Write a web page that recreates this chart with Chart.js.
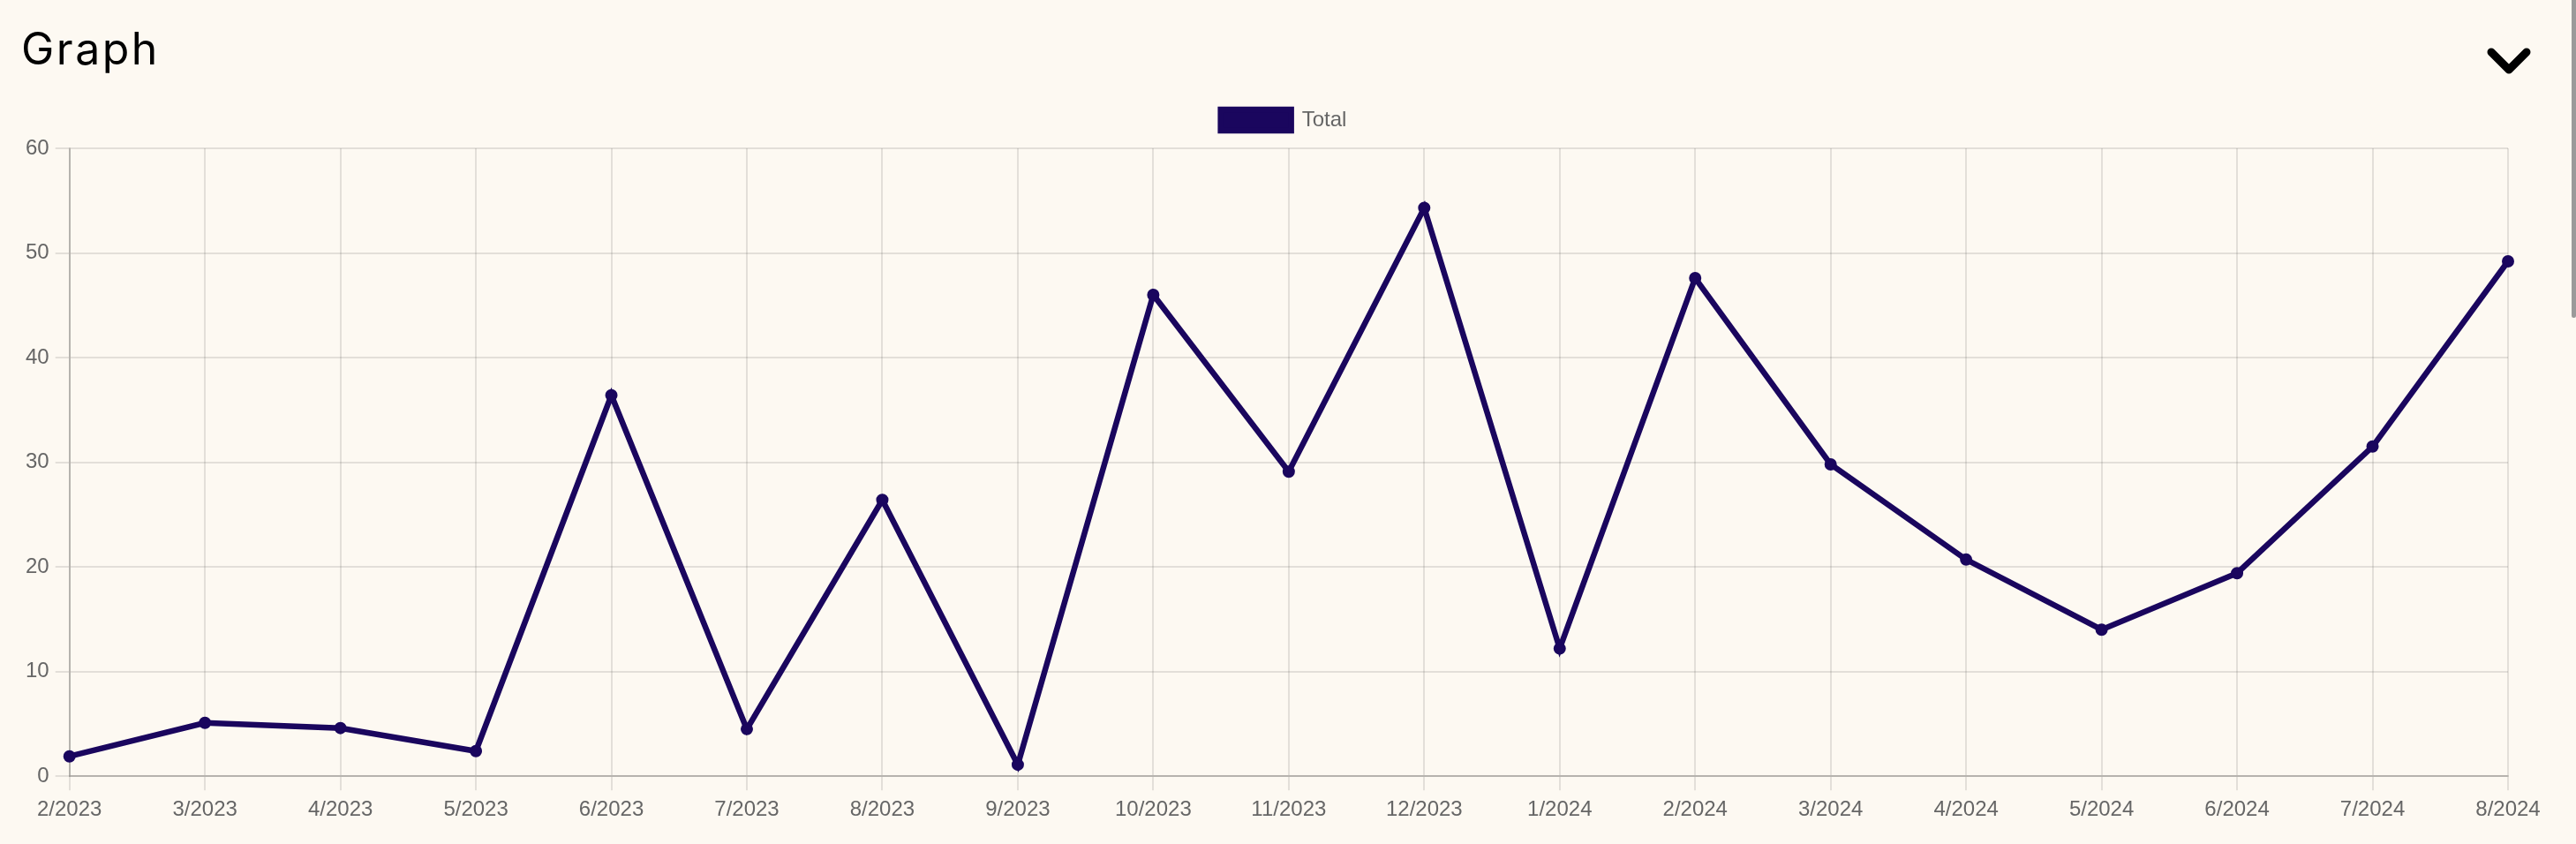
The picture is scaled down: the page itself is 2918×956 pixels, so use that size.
<!DOCTYPE html>
<html>
<head>
<meta charset="utf-8">
<script src="https://cdn.jsdelivr.net/npm/chart.js@4.4.1/dist/chart.umd.min.js"></script>
<style>
  html, body { margin: 0; padding: 0; background: #fdf9f2; width: 2918px; height: 956px; overflow: hidden; }
  #title { position: absolute; left: 24px; top: 30px; font-family: Inter, "Noto Sans", sans-serif; font-size: 50px; line-height: 1; color: #000; font-weight: 400; letter-spacing: 2.5px; }
  #chev { position: absolute; left: 2810px; top: 45px; }
  #scroll { position: absolute; left: 2913px; top: 0; width: 5px; height: 360px; background: #9a9a9a; border-radius: 0 0 3px 3px; }
  #wrap { position: absolute; left: 0; top: 0; width: 2910px; height: 956px; }
</style>
</head>
<body>
<div id="title">Graph</div>
<svg id="chev" width="64" height="50" viewBox="0 0 64 50">
  <polyline points="12,14 32,34 52,14" fill="none" stroke="#000" stroke-width="9" stroke-linecap="round" stroke-linejoin="round"/>
</svg>
<div id="scroll"></div>
<div id="wrap"><canvas id="c"></canvas></div>
<script>
const categories = ["2/2023","3/2023","4/2023","5/2023","6/2023","7/2023","8/2023","9/2023","10/2023","11/2023","12/2023","1/2024","2/2024","3/2024","4/2024","5/2024","6/2024","7/2024","8/2024"];
const totalValues = [1.9, 5.1, 4.6, 2.4, 36.4, 4.5, 26.4, 1.1, 46.0, 29.1, 54.3, 12.2, 47.6, 29.8, 20.7, 14.0, 19.4, 31.5, 49.2];
const seriesLabel = "Total";
const yTicks = [0, 10, 20, 30, 40, 50, 60];

const lineColor = '#1a065e';
const gridColor = 'rgba(0,0,0,0.1)';
const borderColor = 'rgba(0,0,0,0.2)';

Chart.defaults.font.family = '"Liberation Sans", Arial, Helvetica, sans-serif';
Chart.defaults.font.size = 24;
Chart.defaults.color = '#666';

const legendGap = {
  id: 'legendGap',
  beforeInit(chart) {
    const lg = chart.legend;
    if (!lg) return;
    const origFit = lg.fit;
    lg.fit = function () { origFit.call(this); this.height += 10; };
  }
};

new Chart(document.getElementById('c'), {
  type: 'line',
  data: {
    labels: categories,
    datasets: [{
      label: seriesLabel,
      data: totalValues,
      borderColor: lineColor,
      backgroundColor: lineColor,
      borderWidth: 6.5,
      pointRadius: 6,
      pointBorderWidth: 2,
      pointBackgroundColor: lineColor,
      pointBorderColor: lineColor,
      tension: 0,
      fill: false
    }]
  },
  plugins: [legendGap],
  options: {
    responsive: true,
    maintainAspectRatio: false,
    animation: false,
    layout: { padding: { top: 103, left: 22, right: 24, bottom: 16 } },
    plugins: {
      legend: {
        display: true,
        position: 'top',
        labels: { boxWidth: 80, boxHeight: 24, padding: 21, font: { size: 24 }, color: '#666' }
      },
      tooltip: { enabled: false }
    },
    scales: {
      x: {
        grid: { color: gridColor, tickLength: 16, lineWidth: 2 },
        border: { color: borderColor, width: 2 },
        afterFit: (axis) => { axis.paddingRight = 69; },
        ticks: { padding: 8, maxRotation: 0, autoSkip: false, font: { size: 24 }, color: '#666' }
      },
      y: {
        min: 0, max: 60,
        grid: { color: gridColor, tickLength: 16, lineWidth: 2 },
        border: { color: borderColor, width: 2 },
        afterBuildTicks: (axis) => { axis.ticks = yTicks.map(v => ({ value: v })); },
        ticks: { padding: 7, font: { size: 24 }, color: '#666' }
      }
    }
  }
});
</script>
</body>
</html>
